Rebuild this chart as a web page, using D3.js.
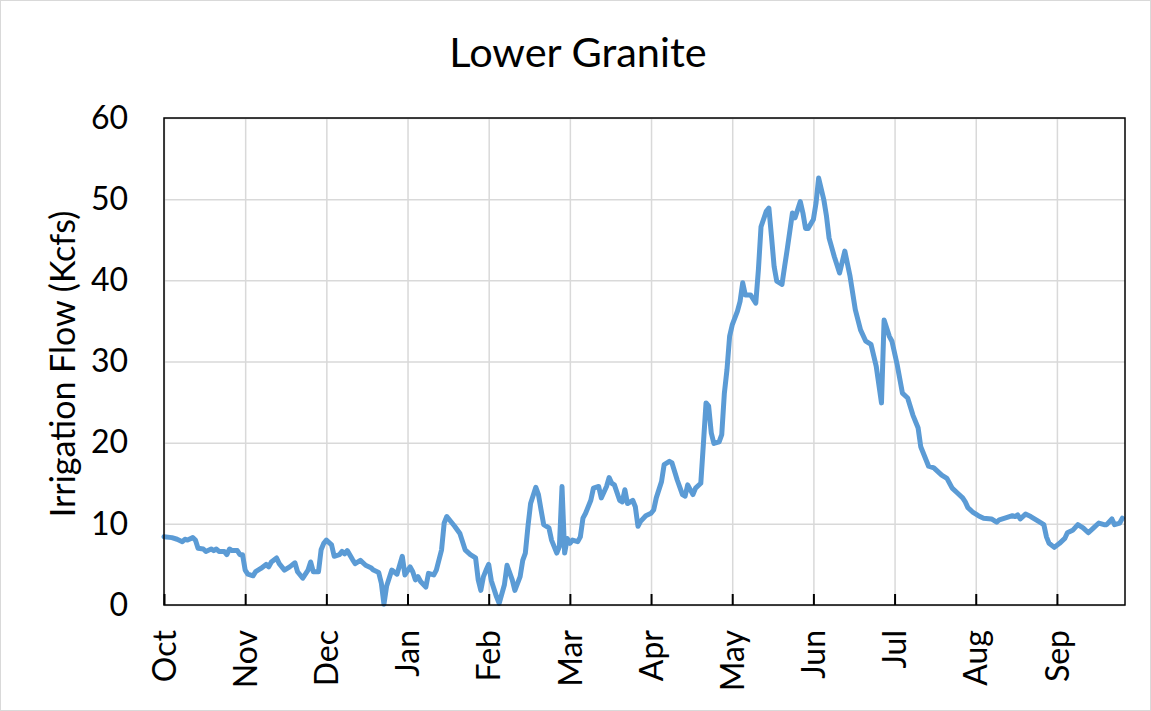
<!DOCTYPE html>
<html>
<head>
<meta charset="utf-8">
<script src="https://cdn.jsdelivr.net/npm/d3@7"></script>
<style>
  html, body { margin: 0; padding: 0; background: #fff; }
  svg { display: block; }
  text { font-family: Lato, "Open Sans", sans-serif; fill: #000; }
</style>
</head>
<body>
<svg id="chart" width="1151" height="711"></svg>
<script>
const title = "Lower Granite";
const yAxisTitle = "Irrigation Flow (Kcfs)";
const monthLabels = ["Oct","Nov","Dec","Jan","Feb","Mar","Apr","May","Jun","Jul","Aug","Sep"];
const monthStartDays = [0,31,62,93,124,155,186,217,248,279,310,341];
const yTicks = [0,10,20,30,40,50,60];

// day of water year (from Oct 1)
const days = [0,3,5,7,8,9,11,12,13,15,16,18,19,20,21,23,24,25,26,28,29,30,31,32,34,35,37,39,40,41,43,44,46,48,50,51,53,55,56,57,59,60,61,62,64,65,67,68,69,70,72,73,75,77,79,80,82,83,84,85,87,89,91,92,94,95,96,97,98,100,101,103,104,106,107,108,110,111,113,115,117,119,120,121,122,123,124,125,127,128,130,131,133,134,136,137,138,139,140,142,143,144,145,147,148,150,151,152,153,154,155,156,158,159,160,161,163,164,166,167,169,170,171,172,174,175,176,177,179,180,181,182,184,186,187,188,190,191,193,194,196,198,199,200,202,203,205,206,207,208,209,210,212,213,214,215,216,217,219,220,221,222,224,226,227,228,230,231,232,233,234,236,237,238,240,241,243,244,245,246,248,249,250,252,253,254,256,258,260,262,264,266,268,270,272,274,275,277,278,280,282,284,286,288,289,292,294,297,299,301,303,305,306,307,309,311,313,316,318,319,322,324,325,326,327,329,331,334,336,337,338,340,342,344,345,347,349,351,353,355,357,359,360,362,363,365,366];
// irrigation flow (Kcfs)
const flow = [8.4,8.3,8.1,7.8,8.1,8.0,8.3,8.0,7.0,6.9,6.6,6.9,6.7,6.9,6.6,6.6,6.2,6.9,6.7,6.7,6.2,6.2,4.3,3.8,3.6,4.1,4.5,5.0,4.7,5.3,5.8,5.1,4.3,4.7,5.2,4.1,3.3,4.3,5.3,4.1,4.1,6.8,7.6,8.0,7.4,6.0,6.2,6.6,6.3,6.7,5.6,5.1,5.5,4.9,4.6,4.3,4.0,2.7,0.1,2.3,4.3,3.8,6.0,3.7,4.7,4.1,3.1,3.5,2.9,2.2,3.9,3.7,4.3,6.8,10.1,10.9,10.1,9.7,8.8,6.8,6.2,5.8,3.1,1.8,3.5,4.3,5.0,3.0,1.0,0.2,2.5,4.9,3.1,1.8,3.5,5.5,6.4,9.7,12.5,14.5,13.6,11.7,9.9,9.5,8.0,6.4,7.2,14.6,6.4,8.2,7.6,8.0,7.8,8.4,10.7,11.3,12.9,14.4,14.6,13.2,14.6,15.7,15.0,14.8,12.9,12.7,14.2,12.5,12.9,12.1,9.7,10.3,11.0,11.3,11.7,13.2,15.2,17.3,17.7,17.5,15.4,13.6,13.4,14.8,13.6,14.4,15.0,19.9,24.9,24.5,21.2,19.9,20.1,21.0,26.1,29.0,33.1,34.5,36.2,37.4,39.7,38.2,38.2,37.2,41.3,46.6,48.5,48.9,45.4,41.7,39.9,39.5,41.7,43.8,48.3,47.7,49.7,48.3,46.4,46.4,47.5,49.5,52.6,49.9,47.9,45.2,42.9,40.9,43.6,40.5,36.4,33.9,32.5,32.1,29.4,24.9,35.1,33.1,32.5,29.6,26.1,25.5,23.4,21.8,19.5,17.1,16.9,16.0,15.6,14.4,13.8,13.2,12.7,12.0,11.4,11.0,10.7,10.6,10.2,10.5,10.8,11.0,10.9,11.1,10.6,11.2,10.9,10.3,9.9,8.4,7.6,7.1,7.6,8.2,8.9,9.2,9.9,9.5,8.9,9.5,10.1,9.9,9.9,10.6,9.9,10.1,10.7];

const data = days.map((d, i) => ({ day: d, value: flow[i] }));

const svg = d3.select("#chart");
const W = 1151, H = 711;
const plot = { left: 164, right: 1125, top: 118, bottom: 605 };

// chart area border
svg.append("rect")
  .attr("x", 0.5).attr("y", 0.5)
  .attr("width", W - 1).attr("height", H - 1)
  .attr("fill", "#fff").attr("stroke", "#d9d9d9").attr("stroke-width", 1);

const x = d3.scaleLinear().domain([0, 367]).range([plot.left, plot.right]);
const y = d3.scaleLinear().domain([0, 60]).range([plot.bottom, plot.top]);

// horizontal gridlines
svg.append("g")
  .attr("transform", `translate(${plot.left},0)`)
  .call(d3.axisLeft(y).tickValues(yTicks).tickSize(-(plot.right - plot.left)).tickFormat(""))
  .call(g => g.select(".domain").remove())
  .call(g => g.selectAll("line").attr("stroke", "#d9d9d9").attr("stroke-width", 1.5));

// vertical gridlines
svg.append("g")
  .attr("transform", `translate(0,${plot.bottom})`)
  .call(d3.axisBottom(x).tickValues(monthStartDays).tickSize(-(plot.bottom - plot.top)).tickFormat(""))
  .call(g => g.select(".domain").remove())
  .call(g => g.selectAll("line").attr("stroke", "#d9d9d9").attr("stroke-width", 1.5));

// data line
const line = d3.line().x(d => x(d.day)).y(d => y(d.value)).curve(d3.curveLinear);
svg.append("path")
  .datum(data)
  .attr("d", line)
  .attr("fill", "none")
  .attr("stroke", "#5b9bd5")
  .attr("stroke-width", 5)
  .attr("stroke-linejoin", "round")
  .attr("stroke-linecap", "round");

// plot frame
svg.append("rect")
  .attr("x", plot.left).attr("y", plot.top)
  .attr("width", plot.right - plot.left).attr("height", plot.bottom - plot.top)
  .attr("fill", "none").attr("stroke", "#000").attr("stroke-width", 1.5);

// x axis tick marks (inward) and labels
const xAxis = svg.append("g")
  .attr("transform", `translate(0,${plot.bottom})`)
  .call(d3.axisBottom(x).tickValues(monthStartDays).tickSize(-11)
    .tickFormat((d, i) => monthLabels[i]).tickPadding(0))
  .call(g => g.select(".domain").remove())
  .call(g => g.selectAll("line").attr("stroke", "#000").attr("stroke-width", 2));
xAxis.selectAll("text")
  .attr("font-family", "Lato, 'Open Sans', sans-serif")
  .attr("font-size", 32)
  .attr("fill", "#000")
  .attr("text-anchor", "end")
  .attr("dy", "0.35em")
  .attr("y", 0)
  .attr("transform", "translate(0,25) rotate(-90)");

// y axis labels
const yAxis = svg.append("g")
  .attr("transform", `translate(${plot.left},0)`)
  .call(d3.axisLeft(y).tickValues(yTicks).tickSize(0).tickPadding(36))
  .call(g => g.select(".domain").remove());
yAxis.selectAll("text")
  .attr("font-family", "Lato, 'Open Sans', sans-serif")
  .attr("font-size", 32)
  .attr("fill", "#000");

// titles
svg.append("text")
  .attr("x", 578).attr("y", 67)
  .attr("text-anchor", "middle")
  .attr("font-size", 41.5)
  .text(title);

svg.append("text")
  .attr("transform", "translate(75,364) rotate(-90)")
  .attr("text-anchor", "middle")
  .attr("font-size", 34)
  .text(yAxisTitle);
</script>
</body>
</html>
